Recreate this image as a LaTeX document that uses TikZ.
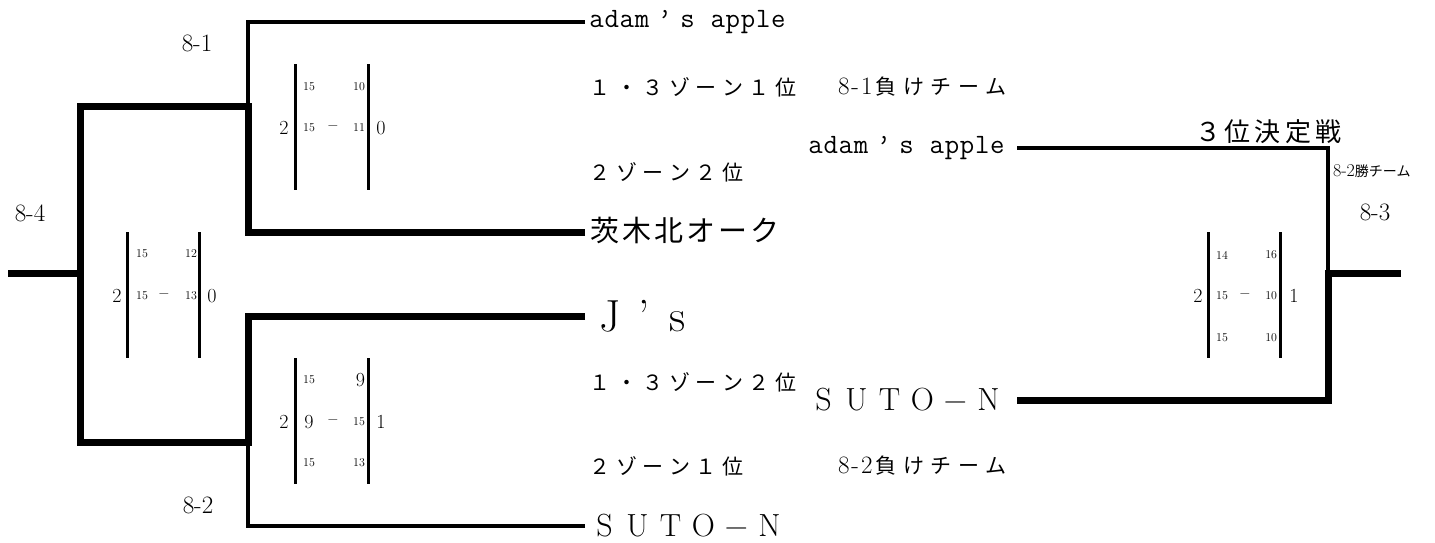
\documentclass[tikz,border=0pt]{standalone}
\usepackage{fontspec}
\newfontfamily\cjk{Noto Sans CJK JP}
\makeatletter
\newcommand\pitch[2]{\@tfor\pch:=#2\do{\makebox[#1][c]{\pch}}}
\makeatother
\newcommand\fs[1]{\fontsize{#1}{#1}\selectfont}
\begin{document}
\begin{tikzpicture}[x=1pt,y=-1pt,
  every node/.style={inner sep=0pt, outer sep=0pt},
  thinln/.style={line width=3.2pt},
  thickln/.style={line width=7pt},
  bar/.style={line width=3pt},
  big/.style={font=\fs{20}},
  sm/.style={font=\fs{12}},
  mid/.style={font=\fs{14}},
  lbl/.style={font=\fs{25}},
  mono/.style={font=\ttfamily\fs{28}},
  jps/.style={font=\cjk\fs{21}},
  jpb/.style={font=\cjk\fs{29}},
  latb/.style={font=\fs{32}},
  jsty/.style={font=\fs{45}}
]
\useasboundingbox (0,0) rectangle (1435,542);

% junction coordinates
\coordinate (m1) at (248,106);
\coordinate (m2) at (248,442);
\coordinate (m4) at (80,273);
\coordinate (o4) at (8,273);
\coordinate (m3) at (1328,273);
\coordinate (o3) at (1401,273);

% team names, left column
\node[mono, anchor=west] (A1) at (589,22) {\pitch{15.15pt}{adam}\makebox[30.3pt]{’}\pitch{15.15pt}{s~apple}};
\node[jpb, anchor=west] (W1) at (589,230) {\pitch{32pt}{茨木北オーク}};
\node[jsty, anchor=west] (J1) at (593,316) {\pitch{34pt}{J’s}};
\node[latb, anchor=west] (S1) at (588,526) {\pitch{33pt}{SUTO−N}};

% team names, third-place match
\node[mono, anchor=east] (A2) at (1005,148) {\pitch{15.15pt}{adam}\makebox[30.3pt]{’}\pitch{15.15pt}{s~apple}};
\node[latb, anchor=east] (S2) at (1005,400) {\pitch{33pt}{SUTO−N}};

% bracket lines
\draw[thinln] ([xshift=-4pt]A1.west) -| (m1);
\draw[thickln] ([xshift=-4pt]W1.west |- 0,232) -| (m1) -| (m4);
\draw[thickln] ([xshift=-8pt]J1.west) -| (m2) -| (m4);
\draw[thinln] ([xshift=-3pt]S1.west) -| (m2);
\draw[thickln] (m4) -- (o4);
\draw[thinln] ([xshift=12pt]A2.east) -| (m3);
\draw[thickln] ([xshift=12pt]S2.east) -| (m3) -- (o3);

% match labels
\node[lbl] (L81) at (197,43) {8-1};
\node[lbl] (L84) at (30,213) {8-4};
\node[lbl] (L82) at (198,505) {8-2};
\node[lbl] (L83) at (1375,212) {8-3};
\node[anchor=west] (L82w) at (1333,171) {\fs{18}8-2\cjk\fs{14}勝チーム};
\node (T3) at (1268,132) {\cjk\fs{26}\pitch{30pt}{３位決定戦}};

% seed notes
\node[jps, anchor=west] (Z1) at (587,87) {\pitch{26.5pt}{１・３ゾーン１位}};
\node[jps, anchor=east] (N1) at (1010,87) {{\normalfont\fs{25}\pitch{11.5pt}{8-1}}\pitch{27.5pt}{負けチーム}};
\node[jps, anchor=west] (Z2) at (587,172) {\pitch{26.5pt}{２ゾーン２位}};
\node[jps, anchor=west] (Z3) at (587,382) {\pitch{26.5pt}{１・３ゾーン２位}};
\node[jps, anchor=west] (Z4) at (587,466) {\pitch{26.5pt}{２ゾーン１位}};
\node[jps, anchor=east] (N2) at (1010,466) {{\normalfont\fs{25}\pitch{11.5pt}{8-2}}\pitch{27.5pt}{負けチーム}};

% score 8-1
\draw[bar] (295,64) -- (295,190);
\draw[bar] (368,64) -- (368,190);
\node[big] (a1) at (284,128) {2};
\node[big] (a2) at (381,128) {0};
\node[sm] (a3) at (309,87) {15};
\node[sm, anchor=east] (a4) at (365,87) {10};
\node[sm] (a5) at (309,128) {15};
\node[mid] (a6) at (333,128) {−};
\node[sm, anchor=east] (a7) at (365,128) {11};

% score 8-4
\draw[bar] (127,232) -- (127,358);
\draw[bar] (199,232) -- (199,358);
\node[big] (b1) at (117,296) {2};
\node[big] (b2) at (212,296) {0};
\node[sm] (b3) at (142,254) {15};
\node[sm, anchor=east] (b4) at (197,254) {12};
\node[sm] (b5) at (142,296) {15};
\node[mid] (b6) at (164,296) {−};
\node[sm, anchor=east] (b7) at (197,296) {13};

% score 8-2
\draw[bar] (295,358) -- (295,484);
\draw[bar] (368,358) -- (368,484);
\node[big] (c1) at (284,422) {2};
\node[big] (c2) at (381,422) {1};
\node[sm] (c3) at (309,380) {15};
\node[big, anchor=east] (c4) at (365,380) {9};
\node[big] (c5) at (309,422) {9};
\node[mid] (c6) at (333,422) {−};
\node[sm, anchor=east] (c7) at (365,422) {15};
\node[sm] (c8) at (309,463) {15};
\node[sm, anchor=east] (c9) at (365,463) {13};

% score 8-3
\draw[bar] (1208,232) -- (1208,358);
\draw[bar] (1280,232) -- (1280,358);
\node[big] (d1) at (1198,296) {2};
\node[big] (d2) at (1294,296) {1};
\node[sm] (d3) at (1222,255) {14};
\node[sm, anchor=east] (d4) at (1277,255) {16};
\node[sm] (d5) at (1222,296) {15};
\node[mid] (d6) at (1245,296) {−};
\node[sm, anchor=east] (d7) at (1277,296) {10};
\node[sm] (d8) at (1222,338) {15};
\node[sm, anchor=east] (d9) at (1277,338) {10};
\end{tikzpicture}
\end{document}
